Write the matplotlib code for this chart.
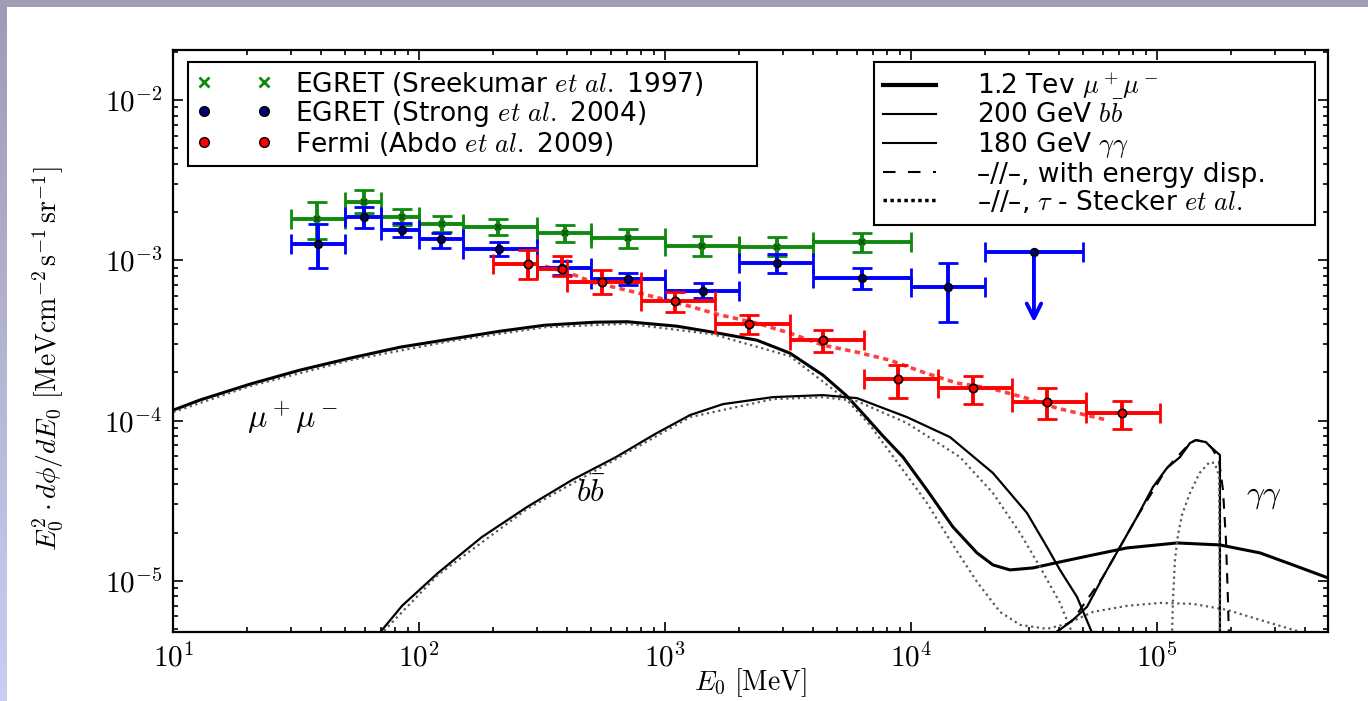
import matplotlib

matplotlib.use("Agg")
import matplotlib.pyplot as plt
import numpy as np
from matplotlib.colors import LinearSegmentedColormap
from matplotlib.lines import Line2D
from matplotlib.patches import Rectangle
from matplotlib.ticker import FuncFormatter, LogLocator, NullFormatter

plt.rcParams["mathtext.fontset"] = "cm"
plt.rcParams["font.family"] = "DejaVu Sans"

GREEN = "#0f8a0f"
BLUE = "#0000ff"
RED = "#ff0000"
NAVY = "#000070"

# ---- EGRET (Sreekumar et al. 1997) ------------------------------------------
sree_e = [38.3, 59.8, 84.8, 123.3, 209.5, 391.1, 707.3, 1406, 2853, 6286]
sree_lo = [30, 50, 70, 100, 150, 300, 500, 1000, 2000, 4000]
sree_hi = [50, 70, 100, 150, 300, 500, 1000, 2000, 4000, 10000]
sree_f = [1.82e-3, 2.31e-3, 1.86e-3, 1.69e-3, 1.61e-3, 1.47e-3, 1.37e-3, 1.22e-3, 1.21e-3, 1.30e-3]
sree_up = [2.31e-3, 2.76e-3, 2.08e-3, 1.88e-3, 1.80e-3, 1.65e-3, 1.56e-3, 1.41e-3, 1.39e-3, 1.47e-3]
sree_dn = [1.36e-3, 1.96e-3, 1.65e-3, 1.50e-3, 1.43e-3, 1.30e-3, 1.19e-3, 1.06e-3, 1.06e-3, 1.13e-3]

# ---- EGRET (Strong et al. 2004) ---------------------------------------------
strong_e = [38.9, 59.6, 84.8, 122.5, 211.4, 381, 707, 1419, 2837, 6286, 14140]
strong_lo = [30, 50, 70, 100, 150, 300, 500, 1000, 2000, 4000, 10000]
strong_hi = [50, 70, 100, 150, 300, 500, 1000, 2000, 4000, 10000, 20000]
strong_f = [1.26e-3, 1.86e-3, 1.55e-3, 1.35e-3, 1.17e-3, 9.0e-4, 7.6e-4, 6.4e-4, 9.6e-4, 7.8e-4, 6.8e-4]
strong_up = [1.69e-3, 2.14e-3, 1.71e-3, 1.48e-3, 1.30e-3, 9.9e-4, 8.3e-4, 7.2e-4, 1.10e-3, 8.9e-4, 9.6e-4]
strong_dn = [8.9e-4, 1.58e-3, 1.40e-3, 1.20e-3, 1.06e-3, 8.1e-4, 7.0e-4, 5.8e-4, 8.3e-4, 6.6e-4, 4.1e-4]
# upper limit in the last bin
strong_ul_e = 31530
strong_ul_lo, strong_ul_hi = 20000, 50000
strong_ul_f = 1.12e-3
strong_ul_tip = 4.1e-4

# ---- Fermi (Abdo et al. 2009) -----------------------------------------------
fermi_e = [277, 379, 551, 1095, 2195, 4388, 8855, 17770, 35510, 71660]
fermi_lo = [200, 300, 400, 800, 1600, 3200, 6400, 12800, 25600, 51200]
fermi_hi = [300, 400, 800, 1600, 3200, 6400, 12800, 25600, 51200, 102400]
fermi_f = [9.54e-4, 8.88e-4, 7.33e-4, 5.55e-4, 4.03e-4, 3.17e-4, 1.81e-4, 1.59e-4, 1.30e-4, 1.12e-4]
fermi_up = [1.154e-3, 1.059e-3, 8.66e-4, 6.35e-4, 4.54e-4, 3.70e-4, 2.22e-4, 1.89e-4, 1.59e-4, 1.33e-4]
fermi_dn = [7.69e-4, 7.95e-4, 6.20e-4, 4.76e-4, 3.49e-4, 2.68e-4, 1.375e-4, 1.267e-4, 1.017e-4, 8.81e-5]

# red dotted curve through the Fermi points
fermi_fit_e = [324, 410, 508, 699, 952, 1296, 1623, 2359, 3213, 4377, 6016, 8194,
               11160, 15340, 20890, 28460, 39120, 62450]
fermi_fit_f = [9.18e-4, 8.30e-4, 7.29e-4, 6.50e-4, 5.80e-4, 5.10e-4, 4.61e-4, 4.05e-4,
               3.51e-4, 2.955e-4, 2.672e-4, 2.381e-4, 2.005e-4, 1.713e-4, 1.594e-4,
               1.401e-4, 1.196e-4, 1.007e-4]

# ---- model curves -----------------------------------------------------------
mumu_e = [10, 12.8, 20.5, 32.7, 52.3, 83.5, 133, 213, 324, 518, 699, 1116, 1563, 2359,
          3213, 4377, 5478, 6605, 7674, 9254, 11580, 14770, 18500, 21480, 25190, 31230,
          40220, 54780, 75330, 120300, 179800, 261600, 356200, 494200]
mumu_f = [1.162e-4, 1.342e-4, 1.688e-4, 2.064e-4, 2.451e-4, 2.870e-4, 3.219e-4, 3.611e-4,
          3.936e-4, 4.109e-4, 4.138e-4, 3.880e-4, 3.559e-4, 3.173e-4, 2.634e-4, 1.921e-4,
          1.421e-4, 1.036e-4, 8.01e-5, 5.92e-5, 3.69e-5, 2.17e-5, 1.495e-5, 1.258e-5,
          1.171e-5, 1.205e-5, 1.313e-5, 1.452e-5, 1.606e-5, 1.725e-5, 1.676e-5, 1.495e-5,
          1.258e-5, 1.044e-5]
mumu_tau_e = [10, 20.5, 52.3, 133, 324, 699, 1563, 3213, 5478, 6795, 9254, 11580, 14770,
              18500, 22940, 27670, 35610, 42950, 54780, 75330, 102600, 139700, 192000,
              261600, 380300]
mumu_tau_f = [1.130e-4, 1.641e-4, 2.381e-4, 3.129e-4, 3.825e-4, 4.022e-4, 3.458e-4,
              2.522e-4, 1.342e-4, 9.38e-5, 4.915e-5, 3.062e-5, 1.676e-5, 9.86e-6, 6.41e-6,
              5.32e-6, 5.02e-6, 5.40e-6, 6.41e-6, 6.99e-6, 7.29e-6, 7.19e-6, 6.60e-6,
              5.71e-6, 4.81e-6]

bb_e = [67.9, 85.1, 119.1, 179.8, 274.1, 417.6, 630.4, 908.1, 1260, 1716, 2741, 4377,
        6016, 9605, 14370, 21480, 29530, 35610, 40220, 47170, 54780]
bb_f = [4.6e-6, 6.99e-6, 1.121e-5, 1.879e-5, 2.89e-5, 4.26e-5, 5.92e-5, 8.24e-5, 1.082e-4,
        1.267e-4, 1.401e-4, 1.442e-4, 1.381e-4, 1.051e-4, 7.89e-5, 4.71e-5, 2.653e-5,
        1.628e-5, 1.171e-5, 7.95e-6, 4.6e-6]
bb_tau_e = [69.2, 119.1, 274.1, 630.4, 1260, 2741, 4377, 6016, 9605, 15780, 21480, 27670,
            33360, 40220, 45430]
bb_tau_f = [4.6e-6, 1.090e-5, 2.81e-5, 5.76e-5, 1.051e-4, 1.361e-4, 1.401e-4, 1.322e-4,
            9.65e-5, 5.92e-5, 3.53e-5, 1.991e-5, 1.223e-5, 7.29e-6, 4.6e-6]

gg_e = [36630, 39120, 45430, 51790, 60160, 70540, 82700, 96050, 109500, 123700, 135800,
        143500, 157600, 166700, 179800, 179800]
gg_f = [4.5e-6, 4.81e-6, 5.71e-6, 6.89e-6, 1.059e-5, 1.628e-5, 2.505e-5, 3.85e-5, 5.06e-5,
        5.92e-5, 7.24e-5, 7.56e-5, 7.34e-5, 6.74e-5, 6.10e-5, 4.0e-6]
gg_disp_e = [36630, 45430, 60160, 82700, 109500, 135800, 143500, 157600, 166700, 178100,
             185000, 190200, 193800, 195600]
gg_disp_f = [4.5e-6, 5.71e-6, 1.059e-5, 2.505e-5, 5.06e-5, 7.24e-5, 7.56e-5, 7.34e-5,
             6.74e-5, 5.67e-5, 3.69e-5, 1.80e-5, 7.61e-6, 4.5e-6]
gg_tau_e = [114800, 115800, 118000, 121400, 126000, 135800, 148600, 163200, 171000,
            178100, 179800]
gg_tau_f = [4.5e-6, 7.61e-6, 1.351e-5, 1.934e-5, 2.578e-5, 3.53e-5, 4.71e-5, 5.51e-5,
            5.44e-5, 4.57e-5, 4.5e-6]


def draw_bins(ax, e, lo, hi, f, dn, up, color, z):
    xerr = [np.subtract(e, lo), np.subtract(hi, e)]
    yerr = [np.subtract(f, dn), np.subtract(up, f)]
    ax.errorbar(e, f, xerr=xerr, yerr=yerr, fmt="none", ecolor=color,
                elinewidth=2.8, capsize=7, capthick=2.0, zorder=z)


def main() -> None:
    fig = plt.figure(figsize=(13.68, 7.01), dpi=100)

    # slide-like border (top band + left gradient)
    bg = fig.add_axes([0, 0, 1, 1], zorder=-5)
    grad = LinearSegmentedColormap.from_list("edge", ["#a09ab6", "#c8cef0"])
    bg.imshow(np.linspace(0, 1, 64).reshape(-1, 1), cmap=grad, aspect="auto",
              extent=(0, 7, 701, 0))
    bg.add_patch(Rectangle((0, 0), 1368, 7, color="#a39cb7", lw=0))
    bg.set_xlim(0, 1368)
    bg.set_ylim(701, 0)
    bg.axis("off")

    ax = fig.add_axes([0.12668, 0.09843, 0.84386, 0.83024])
    ax.set_xscale("log")
    ax.set_yscale("log")

    # --- model curves -------------------------------------------------------
    dot = (0, (1, 1.6))
    ax.plot(mumu_e, mumu_f, color="k", lw=2.2, zorder=2)
    ax.plot(mumu_tau_e, mumu_tau_f, color="0.35", lw=1.6, ls=dot, zorder=2)
    ax.plot(bb_e, bb_f, color="k", lw=1.6, zorder=2)
    ax.plot(bb_tau_e, bb_tau_f, color="0.35", lw=1.6, ls=dot, zorder=2)
    ax.plot(gg_e, gg_f, color="k", lw=1.6, zorder=2)
    ax.plot(gg_disp_e, gg_disp_f, color="k", lw=1.5, ls=(0, (5, 4)), zorder=2)
    ax.plot(gg_tau_e, gg_tau_f, color="0.35", lw=1.6, ls=dot, zorder=2)
    ax.plot(fermi_fit_e, fermi_fit_f, color=RED, lw=2.6, ls=(0, (1.5, 1.2)),
            alpha=0.75, zorder=2)

    # --- data ---------------------------------------------------------------
    draw_bins(ax, sree_e, sree_lo, sree_hi, sree_f, sree_dn, sree_up, GREEN, 3)
    draw_bins(ax, strong_e, strong_lo, strong_hi, strong_f, strong_dn, strong_up, BLUE, 4)
    ax.errorbar([strong_ul_e], [strong_ul_f],
                xerr=[[strong_ul_e - strong_ul_lo], [strong_ul_hi - strong_ul_e]],
                fmt="none", ecolor=BLUE, elinewidth=2.8, capsize=7, capthick=2.0,
                zorder=4)
    ax.annotate("", xy=(strong_ul_e, strong_ul_tip), xytext=(strong_ul_e, strong_ul_f),
                arrowprops=dict(arrowstyle="->", color=BLUE, lw=2.8, mutation_scale=26,
                                shrinkA=0, shrinkB=0), zorder=4)
    draw_bins(ax, fermi_e, fermi_lo, fermi_hi, fermi_f, fermi_dn, fermi_up, RED, 5)

    ax.plot(sree_e, sree_f, ls="none", marker="x", color="#0a5a0a", ms=5, mew=1.5, zorder=6)
    ax.plot(strong_e + [strong_ul_e], strong_f + [strong_ul_f], ls="none", marker="o",
            mfc=NAVY, mec="k", ms=5.5, mew=1.2, zorder=6)
    ax.plot(fermi_e, fermi_f, ls="none", marker="o", mfc=RED, mec="k", ms=6, mew=1.2,
            zorder=6)

    # --- curve labels -------------------------------------------------------
    ax.text(0.1037, 0.368, r"$\mu^+\mu^-$", transform=ax.transAxes, fontsize=23,
            ha="center", va="center")
    ax.text(0.362, 0.238, r"$b\bar{b}$", transform=ax.transAxes, fontsize=23,
            ha="center", va="center")
    ax.text(0.945, 0.235, r"$\gamma\gamma$", transform=ax.transAxes, fontsize=23,
            ha="center", va="center")

    # --- axes ---------------------------------------------------------------
    ax.set_xlim(10, 4.93e5)
    ax.set_ylim(4.8e-6, 2.05e-2)
    for axis in (ax.xaxis, ax.yaxis):
        axis.set_major_locator(LogLocator(base=10, numticks=20))
        axis.set_minor_locator(LogLocator(base=10, subs=np.arange(2, 10), numticks=20))
        axis.set_minor_formatter(NullFormatter())
        axis.set_major_formatter(
            FuncFormatter(lambda v, pos: r"$10^{%d}$" % int(round(np.log10(v)))))
    ax.tick_params(which="both", direction="in", top=True, right=True, width=1.2)
    ax.tick_params(which="major", length=7, labelsize=21, pad=8)
    ax.tick_params(which="minor", length=3.5)
    for sp in ax.spines.values():
        sp.set_linewidth(1.6)

    ax.set_xlabel(r"$E_0\ [\mathrm{MeV}]$", fontsize=20, va="center")
    ax.xaxis.set_label_coords(0.5, -0.0876)
    ax.set_ylabel(r"$E_0^2\cdot d\phi/dE_0\ [\mathrm{MeV cm}^{-2}\,\mathrm{s}^{-1}\,"
                  r"\mathrm{sr}^{-1}]$", fontsize=20, va="center")
    ax.yaxis.set_label_coords(-0.108, 0.47)

    # --- legends ------------------------------------------------------------
    data_handles = [
        Line2D([], [], ls="none", marker="x", color=GREEN, ms=7, mew=2),
        Line2D([], [], ls="none", marker="o", mfc=NAVY, mec="k", ms=7),
        Line2D([], [], ls="none", marker="o", mfc=RED, mec="k", ms=7),
    ]
    data_labels = [
        r"EGRET (Sreekumar $et\ al.$ 1997)",
        r"EGRET (Strong $et\ al.$ 2004)",
        r"Fermi (Abdo $et\ al.$ 2009)",
    ]
    leg1 = ax.legend(data_handles, data_labels, loc="upper left",
                     bbox_to_anchor=(0.0127, 0.80, 0.4929, 0.18), mode="expand",
                     borderaxespad=0, numpoints=2, handlelength=2.9, handletextpad=0.85,
                     borderpad=0.3, labelspacing=0.04, fontsize=19, fancybox=False,
                     edgecolor="k", framealpha=1)
    leg1.get_frame().set_linewidth(1.5)
    ax.add_artist(leg1)

    model_handles = [
        Line2D([], [], color="k", lw=3),
        Line2D([], [], color="k", lw=1.5),
        Line2D([], [], color="k", lw=1.5),
        Line2D([], [], color="k", lw=1.5, ls=(0, (6, 6))),
        Line2D([], [], color="k", lw=2.5, ls=(0, (1, 1))),
    ]
    model_labels = [
        r"1.2 Tev $\mu^+\mu^-$",
        r"200 GeV $b\bar{b}$",
        r"180 GeV $\gamma\gamma$",
        "\u2013//\u2013, with energy disp.",
        "\u2013//\u2013, $\\tau$ - Stecker $et\\ al.$",
    ]
    leg2 = ax.legend(model_handles, model_labels, loc="upper left",
                     bbox_to_anchor=(0.607, 0.70, 0.382, 0.28), mode="expand",
                     borderaxespad=0, handlelength=2.0, handletextpad=1.55,
                     borderpad=0.35, labelspacing=0.04, fontsize=19, fancybox=False,
                     edgecolor="k", framealpha=1)
    leg2.get_frame().set_linewidth(1.5)

    fig.savefig("out.png", dpi=100)


if __name__ == "__main__":
    main()
